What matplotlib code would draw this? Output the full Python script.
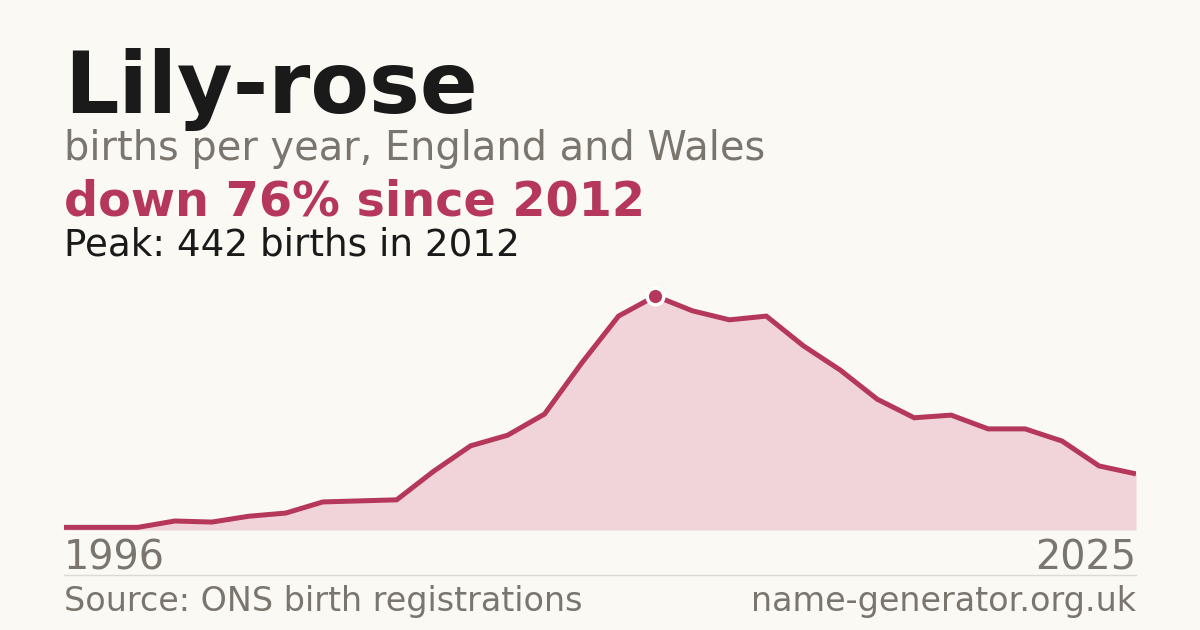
import matplotlib
matplotlib.use("Agg")
import matplotlib.pyplot as plt
from matplotlib.lines import Line2D

years = list(range(1996, 2026))
births = [5, 5, 5, 17, 15, 26, 32, 53, 55, 57, 111, 159, 179, 219, 315,
          404, 442, 414, 397, 404, 348, 302, 247, 212, 217, 191, 191, 168, 121, 106]
peak_year = 2012
peak_value = 442

BG = "#faf9f4"
RED = "#b5385a"
FILL = "#f0d4da"
GRAY = "#7a756d"
DARK = "#1a1a1a"

W, H = 1200, 630
fig = plt.figure(figsize=(12, 6.3), dpi=100, facecolor=BG)
plt.rcParams['font.family'] = ['DejaVu Sans']

def fy(py):
    return 1 - py / H

ax = fig.add_axes([64 / W, 100 / H, 1072 / W, 250 / H])
ax.set_facecolor(BG)
ax.patch.set_alpha(0)
ax.fill_between(years, births, 0, color=FILL, linewidth=0)
ax.plot(years, births, color=RED, linewidth=3.6, solid_capstyle='butt', solid_joinstyle='miter')
ax.plot([peak_year], [peak_value], marker='o', markersize=12, color=RED,
        markeredgecolor='white', markeredgewidth=2.5, clip_on=False)
ax.set_xlim(years[0], years[-1])
ax.set_ylim(0, peak_value * 250 / 234)
ax.axis('off')

fig.text(64 / W, fy(113), "Lily-rose", fontsize=61.6, fontweight='bold', color=DARK, va='baseline', ha='left')
fig.text(64 / W, fy(160), "births per year, England and Wales", fontsize=28.75, color=GRAY, va='baseline', ha='left')
fig.text(64 / W, fy(215), "down 76% since 2012", fontsize=34.4, fontweight='bold', color=RED, va='baseline', ha='left')
fig.text(64 / W, fy(255), "Peak: 442 births in 2012", fontsize=26.8, color=DARK, va='baseline', ha='left')

fig.text(64 / W, fy(570), str(years[0]), fontsize=28.6, color=GRAY, va='baseline', ha='left')
fig.text(1136 / W, fy(570), str(years[-1]), fontsize=28.6, color=GRAY, va='baseline', ha='right')

fig.add_artist(Line2D([64 / W, 1136 / W], [fy(574.5), fy(574.5)], color="#dedad2", linewidth=1, transform=fig.transFigure))

fig.text(64 / W, fy(611), "Source: ONS birth registrations", fontsize=24.0, color=GRAY, va='baseline', ha='left')
fig.text(1136 / W, fy(611), "name-generator.org.uk", fontsize=24.0, color=GRAY, va='baseline', ha='right')

fig.savefig("out.png", dpi=100, facecolor=BG)
